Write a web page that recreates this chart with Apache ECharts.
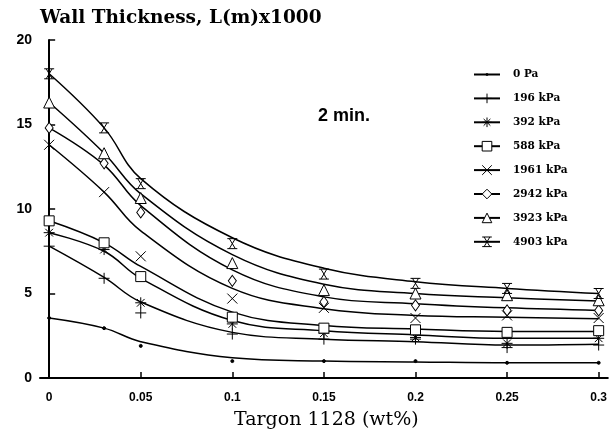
<!DOCTYPE html>
<html>
<head>
<meta charset="utf-8">
<script src="https://cdn.jsdelivr.net/npm/echarts@6/dist/echarts.min.js"></script>
<style>
  html, body { margin: 0; padding: 0; background: #fff; }
  #chart { width: 610px; height: 435px; }
</style>
</head>
<body>
<div id="chart"></div>
<script>
// Targon 1128 concentration (wt%)
const xs = [0, 0.03, 0.05, 0.1, 0.15, 0.2, 0.25, 0.3]
const xTicks = [0, 0.05, 0.1, 0.15, 0.2, 0.25, 0.3]
const names = ['0 Pa', '196 kPa', '392 kPa', '588 kPa', '1961 kPa', '2942 kPa', '3923 kPa', '4903 kPa']

// measured points
const p0 = [3.55, 2.95, 1.9, 1.0, 1.0, 1.0, 0.9, 0.9]
const p196 = [7.8, 5.9, 3.85, 2.6, 2.3, 2.3, 1.8, 1.95]
const p392 = [8.6, 7.6, 4.45, 3.2, 2.65, 2.4, 2.05, 2.35]
const p588 = [9.3, 8.0, 6.0, 3.6, 2.95, 2.85, 2.7, 2.8]
const p1961 = [13.8, 11.0, 7.2, 4.7, 4.15, 3.55, 3.7, 3.55]
const p2942 = [14.8, 12.7, 9.8, 5.75, 4.5, 4.3, 4.0, 4.0]
const p3923 = [16.3, 13.3, 10.65, 6.8, 5.2, 5.0, 4.9, 4.6]
const p4903 = [18.0, 14.8, 11.5, 7.95, 6.15, 5.6, 5.3, 5.0]

// fitted curves
const f0 = [3.55, 2.95, 2.15, 1.2, 1.0, 0.95, 0.9, 0.9]
const f196 = [7.8, 5.95, 4.5, 2.7, 2.3, 2.15, 1.95, 2.0]
const f392 = [8.6, 7.5, 5.9, 3.4, 2.8, 2.55, 2.35, 2.35]
const f588 = [9.3, 8.0, 6.6, 3.9, 3.1, 2.9, 2.75, 2.75]
const f1961 = [13.8, 11.0, 8.7, 5.3, 4.1, 3.7, 3.6, 3.5]
const f2942 = [14.8, 12.6, 10.2, 6.4, 4.8, 4.4, 4.15, 4.0]
const f3923 = [16.3, 13.3, 10.9, 7.3, 5.55, 5.0, 4.75, 4.55]
const f4903 = [18.0, 14.8, 11.8, 8.3, 6.5, 5.7, 5.3, 5.0]

const points = [p0, p196, p392, p588, p1961, p2942, p3923, p4903]
const fits = [f0, f196, f392, f588, f1961, f2942, f3923, f4903]

// marker shapes
const symbols = [
  'circle',
  'path://M0,5L10,5M5,0L5,10',
  'path://M0,5L10,5M5,0L5,10M1.5,1.5L8.5,8.5M8.5,1.5L1.5,8.5',
  'rect',
  'path://M0,0L10,10M10,0L0,10',
  'diamond',
  'triangle',
  'path://M0,0L10,0M0,10L10,10M2,0L8,10M8,0L2,10'
]
const sizes = [3, 11, 11, 10, 10, [8, 11], 11, 10]
// tiny dot inside a full box, so the legend keeps it small
const legendDot = 'path://M0,0M10,10M4.2,4.2L5.8,4.2L5.8,5.8L4.2,5.8Z'

const pairs = arr => arr.map((v, i) => [xs[i], v])

const series = []
names.forEach((name, i) => {
  const dot = i === 0
  series.push({
    name: name,
    type: 'line',
    smooth: 0.4,
    symbol: dot ? legendDot : symbols[i],
    symbolSize: sizes[i],
    showSymbol: false,
    data: pairs(fits[i]),
    lineStyle: { color: '#000', width: 1.5 },
    itemStyle: { color: dot ? '#000' : '#fff', borderColor: '#000', borderWidth: 1 },
    silent: true,
    z: 2
  })
  series.push({
    name: name,
    type: 'scatter',
    symbol: symbols[i],
    symbolSize: sizes[i],
    data: pairs(points[i]),
    itemStyle: { color: dot ? '#000' : '#fff', borderColor: '#000', borderWidth: 1, opacity: 1 },
    z: 3
  })
})

const chart = echarts.init(document.getElementById('chart'))
const option = {
  animation: false,
  grid: { left: 40, right: 0, top: 40, bottom: 57 },
  legend: {
    data: names.map((n, i) => ({
      name: n,
      itemStyle: { color: i === 0 ? '#000' : '#fff', borderColor: '#000', borderWidth: 1 }
    })),
    orient: 'vertical',
    left: 468,
    top: 64,
    itemWidth: 26,
    itemHeight: 12,
    itemGap: 12.9,
    textStyle: { fontFamily: 'DejaVu Serif', fontWeight: 'bold', fontSize: 10.5, color: '#000', padding: [0, 0, 0, 8] }
  },
  xAxis: {
    type: 'value',
    min: -0.005,
    max: 0.305,
    axisLine: { lineStyle: { color: '#000', width: 2 } },
    axisTick: { inside: true, length: 6, customValues: xTicks, lineStyle: { color: '#000', width: 1.5 } },
    axisLabel: {
      customValues: xTicks,
      margin: 14,
      color: '#000',
      fontFamily: 'Liberation Sans',
      fontWeight: 'bold',
      fontSize: 12,
      formatter: v => String(Math.round(v * 100) / 100)
    },
    splitLine: { show: false }
  },
  yAxis: {
    type: 'value',
    min: 0,
    max: 20,
    interval: 5,
    axisLine: { show: true, lineStyle: { color: '#000', width: 2 } },
    axisTick: { show: true, inside: true, length: 6, lineStyle: { color: '#000', width: 1.5 } },
    axisLabel: { color: '#000', fontFamily: 'Liberation Sans', fontWeight: 'bold', fontSize: 14, margin: 8 },
    splitLine: { show: false }
  },
  graphic: [
    {
      type: 'text', left: 40, top: 9,
      style: { text: 'Wall Thickness, L(m)x1000', font: 'bold 18.5px "DejaVu Serif"', fill: '#000' }
    },
    {
      type: 'text', left: 318, top: 107,
      style: { text: '2 min.', font: 'bold 18px "Liberation Sans"', fill: '#000' }
    },
    {
      type: 'text', left: 234, top: 411,
      style: { text: 'Targon 1128 (wt%)', font: '19px "DejaVu Serif"', fill: '#000' }
    }
  ],
  series: series
}
chart.setOption(option)
window.onresize = () => {
  chart.resize()
}
</script>
</body>
</html>
